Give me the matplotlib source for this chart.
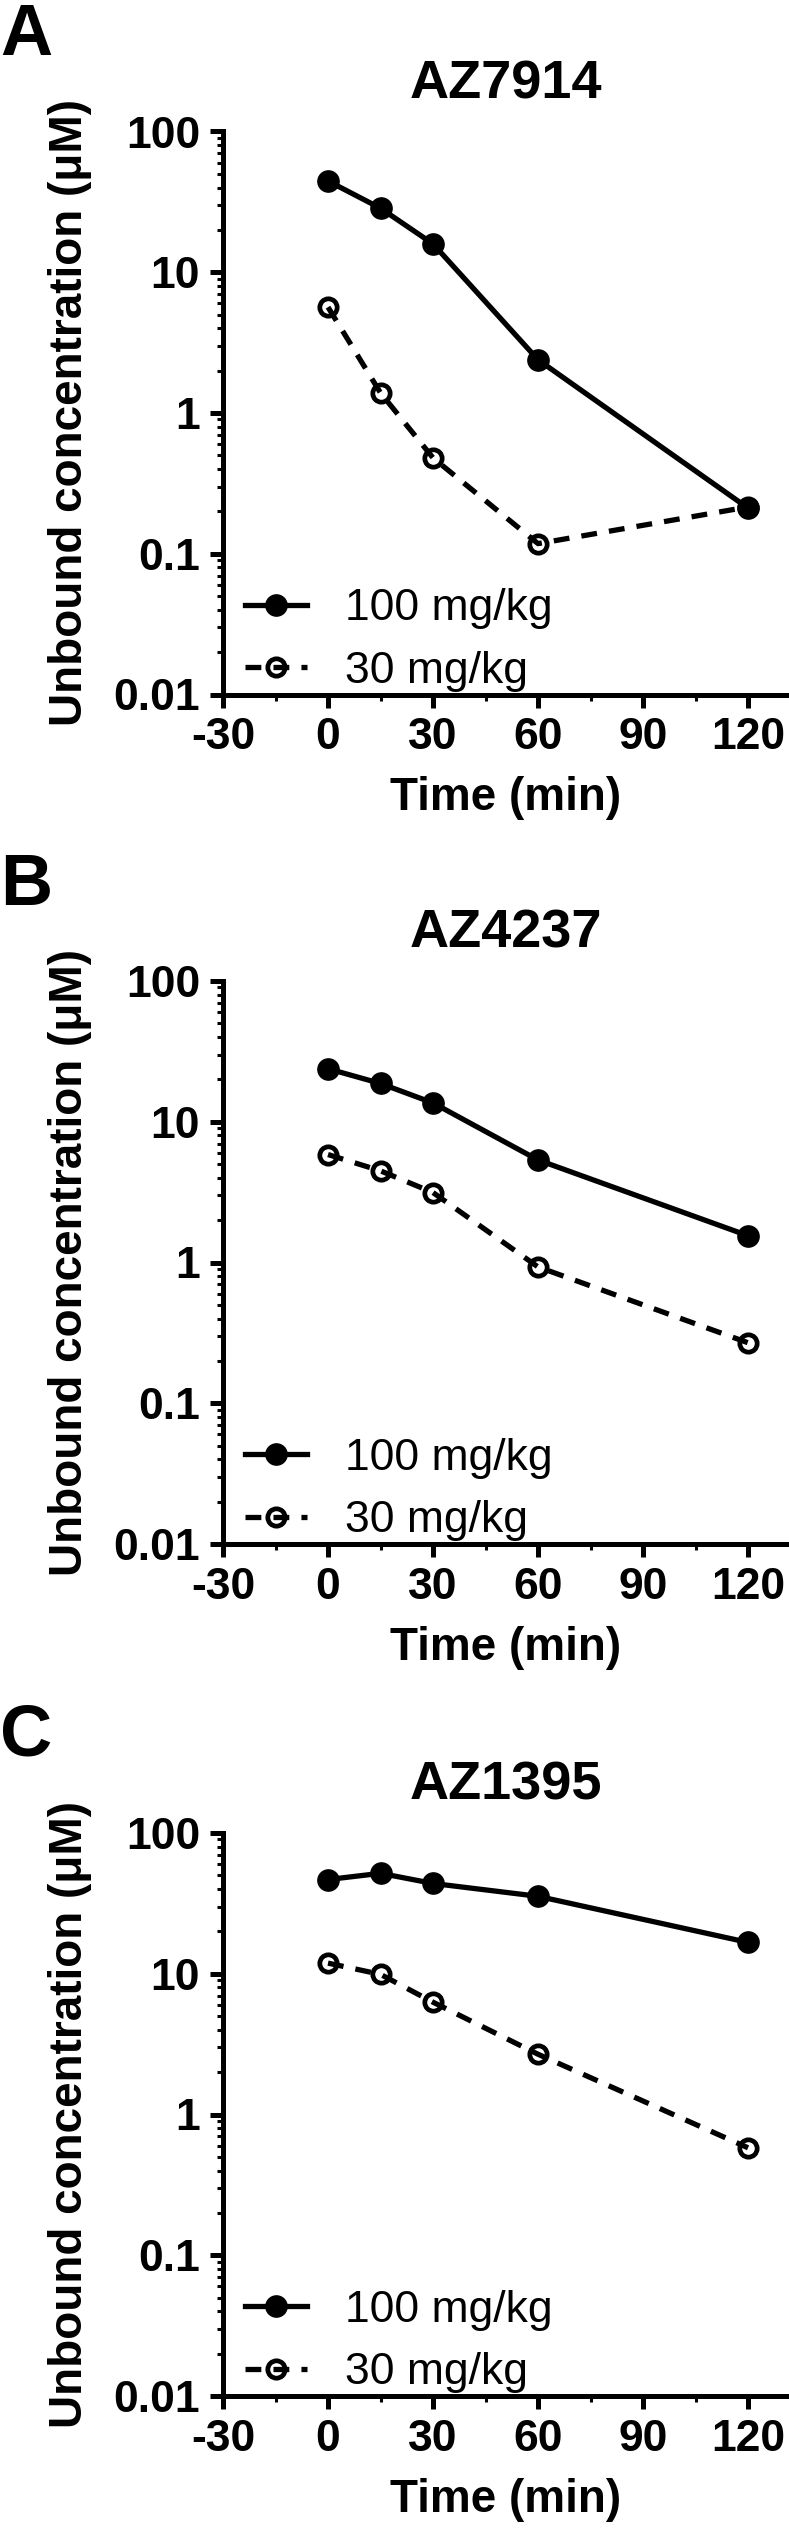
import matplotlib
matplotlib.use('Agg')
import matplotlib.pyplot as plt
from matplotlib.ticker import LogLocator, FixedLocator, NullFormatter

plt.rcParams['font.family'] = ['Liberation Sans', 'DejaVu Sans']
plt.rcParams['axes.unicode_minus'] = False

# data (unbound conc, uM)
time_min = [0, 15, 30, 60, 120]
compounds = ['AZ7914', 'AZ4237', 'AZ1395']
panel_letters = ['A', 'B', 'C']
dose_labels = ['100 mg/kg', '30 mg/kg']

az7914_100 = [44.5, 28.5, 15.9, 2.39, 0.211]
az7914_30 = [5.65, 1.39, 0.48, 0.118, 0.215]
az4237_100 = [23.8, 18.7, 13.6, 5.35, 1.55]
az4237_30 = [5.85, 4.48, 3.14, 0.93, 0.269]
az1395_100 = [46.7, 51.7, 43.8, 35.5, 16.7]
az1395_30 = [11.9, 9.9, 6.28, 2.68, 0.58]

high_dose = [az7914_100, az4237_100, az1395_100]
low_dose = [az7914_30, az4237_30, az1395_30]

x_ticks = [-30, 0, 30, 60, 90, 120]
x_minor = [-15, 15, 45, 75, 105]
y_ticks = [0.01, 0.1, 1, 10, 100]
y_tick_labels = ['0.01', '0.1', '1', '10', '100']

W, H = 789, 2530
fig = plt.figure(figsize=(W / 100, H / 100), dpi=100)

ax_left = 223
ax_h = 563
ax_bottoms = [694.5, 1544, 2396]   # px from top
letter_base = [55, 905, 1756]

for i in range(3):
    b = ax_bottoms[i]
    ax = fig.add_axes([ax_left / W, 1 - b / H, (W - ax_left) / W, ax_h / H])

    l1, = ax.plot(time_min, high_dose[i], color='black', lw=3.8, marker='o',
                  ms=15.3, mew=1, mfc='black', mec='black', zorder=4, clip_on=False,
                  label=dose_labels[0])
    l2, = ax.plot(time_min, low_dose[i], color='black', lw=3.8, ls='--', dashes=(3, 2.3),
                  marker='o', ms=12.5, mew=3.4, mfc='none', mec='black', zorder=3,
                  clip_on=False, label=dose_labels[1])

    ax.set_yscale('log')
    ax.set_ylim(0.01, 100)
    ax.set_xlim(-30, 131.7)
    ax.set_yticks(y_ticks, y_tick_labels)
    ax.yaxis.set_minor_locator(LogLocator(base=10, subs=range(2, 10)))
    ax.yaxis.set_minor_formatter(NullFormatter())
    ax.set_xticks(x_ticks)
    ax.xaxis.set_minor_locator(FixedLocator(x_minor))

    for s in ['top', 'right']:
        ax.spines[s].set_visible(False)
    for s in ['left', 'bottom']:
        ax.spines[s].set_linewidth(3.6)

    ax.tick_params(which='major', length=9.4, width=3.6, pad=7,
                   labelsize=32)
    ax.tick_params(which='minor', length=4.3, width=2.2)
    for lab in ax.get_xticklabels() + ax.get_yticklabels():
        lab.set_fontweight('bold')

    ax.set_title(compounds[i], fontsize=39, fontweight='bold', pad=24)
    ax.set_ylabel('Unbound concentration (μM)', fontsize=33, fontweight='bold')
    ax.yaxis.set_label_coords(-0.231, 0.5)
    ax.set_xlabel('Time (min)', fontsize=33, fontweight='bold')
    ax.xaxis.set_label_coords(0.5, -0.145)

    ax.legend(handles=[l1, l2], loc='lower left', bbox_to_anchor=(0.039, 0.005),
              frameon=False, fontsize=32, handlelength=1.4, handletextpad=0.85,
              labelspacing=0.48, borderpad=0, borderaxespad=0)

    fig.text(0.0, 1 - letter_base[i] / H, panel_letters[i], fontsize=52,
             fontweight='bold', ha='left', va='baseline')

fig.savefig('out.png', dpi=100, facecolor='white')
